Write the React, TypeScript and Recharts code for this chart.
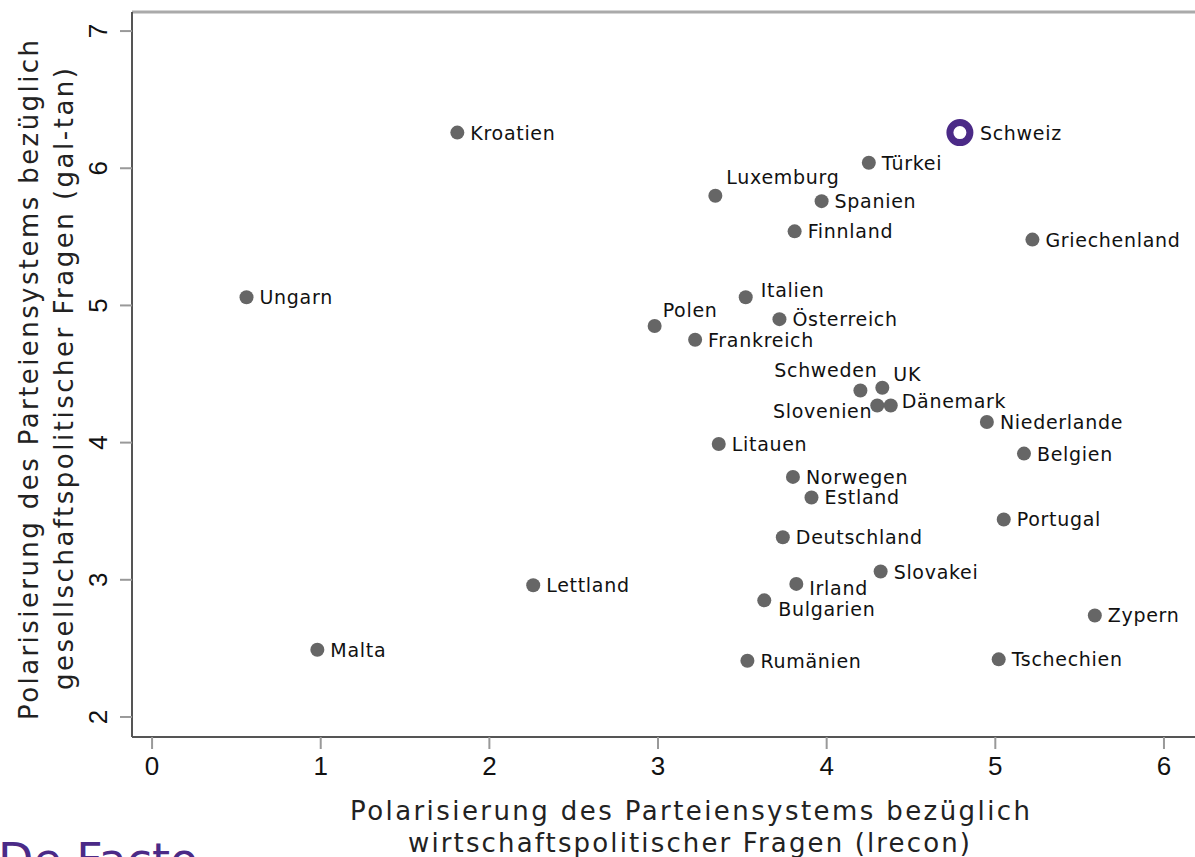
import React from 'react';
import { ScatterChart, Scatter, XAxis, YAxis, ReferenceLine } from 'recharts';

const countries = [
  'Kroatien', 'Türkei', 'Luxemburg', 'Spanien', 'Finnland', 'Griechenland', 'Ungarn',
  'Italien', 'Polen', 'Österreich', 'Frankreich', 'Schweden', 'UK', 'Slovenien',
  'Dänemark', 'Niederlande', 'Litauen', 'Belgien', 'Norwegen', 'Estland', 'Portugal',
  'Deutschland', 'Slovakei', 'Lettland', 'Irland', 'Bulgarien', 'Zypern', 'Malta',
  'Rumänien', 'Tschechien',
];
const lreconValues = [
  1.81, 4.25, 3.34, 3.97, 3.81, 5.22, 0.56,
  3.52, 2.98, 3.72, 3.22, 4.20, 4.33, 4.30,
  4.38, 4.95, 3.36, 5.17, 3.80, 3.91, 5.05,
  3.74, 4.32, 2.26, 3.82, 3.63, 5.59, 0.98,
  3.53, 5.02,
];
const galtanValues = [
  6.26, 6.04, 5.80, 5.76, 5.54, 5.48, 5.06,
  5.06, 4.85, 4.90, 4.75, 4.38, 4.40, 4.27,
  4.27, 4.15, 3.99, 3.92, 3.75, 3.60, 3.44,
  3.31, 3.06, 2.96, 2.97, 2.85, 2.74, 2.49,
  2.41, 2.42,
];

const highlightCountry = 'Schweiz';
const highlightLrecon = 4.79;
const highlightGaltan = 6.26;

const xTicks = [0, 1, 2, 3, 4, 5, 6];
const yTicks = [2, 3, 4, 5, 6, 7];
const xDomain = [-0.119, 6.184];
const yDomain = [1.854, 7.139];

const xTitle = ['Polarisierung des Parteiensystems bezüglich', 'wirtschaftspolitischer Fragen (lrecon)'];
const yTitle = ['Polarisierung des Parteiensystems bezüglich', 'gesellschaftspolitischer Fragen (gal-tan)'];
const logoText = 'De Facto';

// label placement (layout only): dx, dy, anchor
const labelPlacement: Record<string, [number, number, string]> = {
  Luxemburg: [11, -19, 'start'],
  Polen: [8, -16, 'start'],
  Schweden: [17, -20, 'end'],
  UK: [11, -14, 'start'],
  Slovenien: [-5, 5, 'end'],
  Dänemark: [11, -5, 'start'],
  Irland: [13, 4, 'start'],
  Bulgarien: [14, 9, 'start'],
  Italien: [15, -7, 'start'],
};

const mainData = countries.map((name, i) => ({ name, x: lreconValues[i], y: galtanValues[i] }));
const highlightData = [{ name: highlightCountry, x: highlightLrecon, y: highlightGaltan }];

const LABEL_FONT = '"DejaVu Sans", "Open Sans", sans-serif';
const TICK_FONT = '"Liberation Sans", Arial, sans-serif';

const PointLabel = ({ cx, cy, name, defaultDx }: any) => {
  const p = labelPlacement[name] || [defaultDx, 0, 'start'];
  return (
    <text
      x={cx + p[0]}
      y={cy + p[1] + 7}
      textAnchor={p[2] as any}
      fontFamily={LABEL_FONT}
      fontSize={19}
      letterSpacing={0.7}
      fill="#111"
    >
      {name}
    </text>
  );
};

const DotShape = (props: any) => {
  const { cx, cy, payload } = props;
  return (
    <g>
      <circle cx={cx} cy={cy} r={7} fill="#666" />
      <PointLabel cx={cx} cy={cy} name={payload.name} defaultDx={13} />
    </g>
  );
};

const RingShape = (props: any) => {
  const { cx, cy, payload } = props;
  return (
    <g>
      <circle cx={cx} cy={cy} r={10} fill="#fff" stroke="#4b2a87" strokeWidth={7} />
      <PointLabel cx={cx} cy={cy} name={payload.name} defaultDx={20} />
    </g>
  );
};

const XTick = (props: any) => {
  const { x, y, payload } = props;
  return (
    <text x={x} y={y + 24} textAnchor="middle" fontFamily={TICK_FONT} fontSize={26} fill="#111">
      {payload.value}
    </text>
  );
};

const YTick = (props: any) => {
  const { x, y, payload } = props;
  const bx = x - 11;
  return (
    <text
      x={bx}
      y={y}
      transform={`rotate(-90, ${bx}, ${y})`}
      textAnchor="middle"
      fontFamily={TICK_FONT}
      fontSize={26}
      fill="#111"
    >
      {payload.value}
    </text>
  );
};

export default function App() {
  return (
    <div style={{ position: 'absolute', left: 0, top: 0, width: 1195, height: 857, overflow: 'hidden', background: '#fff' }}>
      <ScatterChart width={1195} height={857} margin={{ top: 12, right: 0, bottom: 0, left: 0 }}>
        <XAxis
          type="number"
          dataKey="x"
          domain={xDomain}
          ticks={xTicks}
          allowDataOverflow
          tickSize={12}
          tick={<XTick />}
          stroke="#555"
          strokeWidth={2}
          tickLine={{ stroke: '#999', strokeWidth: 2 }}
          height={120}
        />
        <YAxis
          type="number"
          dataKey="y"
          domain={yDomain}
          ticks={yTicks}
          allowDataOverflow
          tickSize={12}
          tick={<YTick />}
          stroke="#555"
          strokeWidth={2}
          tickLine={{ stroke: '#999', strokeWidth: 2 }}
          width={132}
        />
        <ReferenceLine y={yDomain[1]} stroke="#aaa" strokeWidth={3} ifOverflow="visible" />
        <Scatter data={mainData} shape={<DotShape />} isAnimationActive={false} />
        <Scatter data={highlightData} shape={<RingShape />} isAnimationActive={false} />
      </ScatterChart>
      <svg width={1195} height={857} style={{ position: 'absolute', left: 0, top: 0, pointerEvents: 'none' }}>
        <text x={690} y={820} textAnchor="middle" fontFamily={LABEL_FONT} fontSize={26} fill="#222" textLength={680} lengthAdjust="spacing">
          {xTitle[0]}
        </text>
        <text x={689} y={852} textAnchor="middle" fontFamily={LABEL_FONT} fontSize={26} fill="#222" textLength={562} lengthAdjust="spacing">
          {xTitle[1]}
        </text>
        <text x={38} y={380} transform="rotate(-90, 38, 380)" textAnchor="middle" fontFamily={LABEL_FONT} fontSize={26} fill="#222" textLength={680} lengthAdjust="spacing">
          {yTitle[0]}
        </text>
        <text x={73} y={379} transform="rotate(-90, 73, 379)" textAnchor="middle" fontFamily={LABEL_FONT} fontSize={26} fill="#222" textLength={622} lengthAdjust="spacing">
          {yTitle[1]}
        </text>
        <text x={-2} y={876} fontFamily={LABEL_FONT} fontSize={46} fill="#4b2a87">
          {logoText}
        </text>
      </svg>
    </div>
  );
}
